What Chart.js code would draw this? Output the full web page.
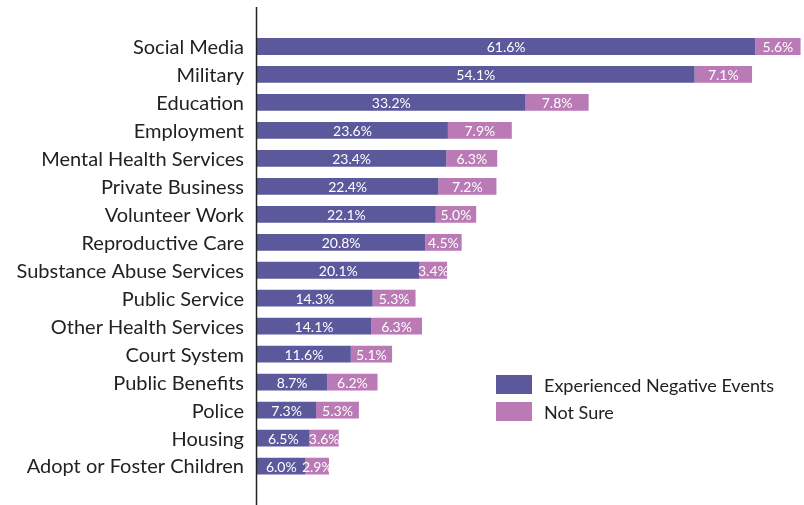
<!DOCTYPE html>
<html>
<head>
<meta charset="utf-8">
<script src="https://cdn.jsdelivr.net/npm/chart.js@4/dist/chart.umd.min.js"></script>
<style>
  html, body { margin: 0; padding: 0; background: #fff; }
  #wrap { position: relative; width: 804px; height: 505px; }
  #legend { position: absolute; left: 496px; top: 371px; font-family: Lato, sans-serif; font-size: 18px; color: #222; }
  #legend div { display: flex; align-items: center; height: 27px; }
  #legend span.sw { display: inline-block; width: 36px; height: 19px; margin-right: 12px; }
</style>
</head>
<body>
<div id="wrap">
  <canvas id="chart" width="804" height="505"></canvas>
  <div id="legend"></div>
</div>
<script>
const categories = [
  'Social Media', 'Military', 'Education', 'Employment', 'Mental Health Services',
  'Private Business', 'Volunteer Work', 'Reproductive Care', 'Substance Abuse Services',
  'Public Service', 'Other Health Services', 'Court System', 'Public Benefits',
  'Police', 'Housing', 'Adopt or Foster Children'
];
const negative = [61.6, 54.1, 33.2, 23.6, 23.4, 22.4, 22.1, 20.8, 20.1, 14.3, 14.1, 11.6, 8.7, 7.3, 6.5, 6.0];
const notSure = [5.6, 7.1, 7.8, 7.9, 6.3, 7.2, 5.0, 4.5, 3.4, 5.3, 6.3, 5.1, 6.2, 5.3, 3.6, 2.9];
const seriesNames = ['Experienced Negative Events', 'Not Sure'];
const colors = ['#5b589c', '#b97ab5'];

const FONT = 'Lato, sans-serif';

// white value text centred in each segment
const barLabels = {
  id: 'barLabels',
  afterDatasetsDraw(chart) {
    const ctx = chart.ctx;
    ctx.save();
    ctx.font = '14px ' + FONT;
    ctx.fillStyle = '#fff';
    ctx.textAlign = 'center';
    ctx.textBaseline = 'middle';
    chart.data.datasets.forEach((ds, i) => {
      chart.getDatasetMeta(i).data.forEach((bar, j) => {
        const x = (bar.x + bar.base) / 2;
        ctx.fillText(ds.data[j].toFixed(1) + '%', x, bar.y + 1);
      });
    });
    ctx.restore();
  }
};

// vertical axis line running the full height
const axisLine = {
  id: 'axisLine',
  afterDraw(chart) {
    const ctx = chart.ctx;
    const x = chart.scales.x.getPixelForValue(0) - 0.5;
    ctx.save();
    ctx.strokeStyle = '#222';
    ctx.lineWidth = 1.5;
    ctx.beginPath();
    ctx.moveTo(x, 7);
    ctx.lineTo(x, chart.height);
    ctx.stroke();
    ctx.restore();
  }
};

new Chart(document.getElementById('chart'), {
  type: 'bar',
  data: {
    labels: categories,
    datasets: [
      { label: seriesNames[0], data: negative, backgroundColor: colors[0] },
      { label: seriesNames[1], data: notSure, backgroundColor: colors[1] }
    ]
  },
  options: {
    indexAxis: 'y',
    responsive: false,
    animation: false,
    layout: { padding: { top: 32.5, bottom: 19, right: 1, left: 0 } },
    datasets: { bar: { categoryPercentage: 1, barPercentage: 0.6 } },
    scales: {
      x: { stacked: true, display: false, min: 0, max: 67.5 },
      y: {
        stacked: true,
        grid: { display: false, drawTicks: false },
        border: { display: false },
        ticks: { color: '#222', font: { family: FONT, size: 20 }, padding: 13, labelOffset: 1 },
        afterFit(scale) { scale.width = 257; }
      }
    },
    plugins: {
      legend: { display: false },
      tooltip: { enabled: false }
    }
  },
  plugins: [barLabels, axisLine]
});

const legend = document.getElementById('legend');
seriesNames.forEach((name, i) => {
  const row = document.createElement('div');
  row.innerHTML = '<span class="sw" style="background:' + colors[i] + '"></span>' + name;
  legend.appendChild(row);
});
</script>
</body>
</html>
